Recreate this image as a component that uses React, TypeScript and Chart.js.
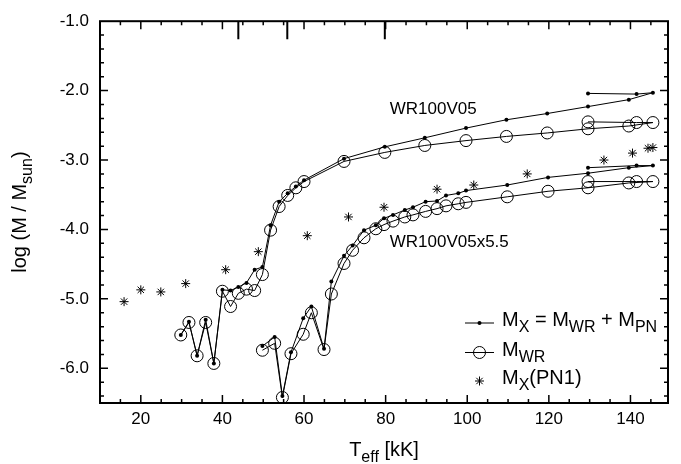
import React, { useEffect, useRef } from "react";
import { Chart, registerables } from "chart.js";

Chart.register(...registerables);

const FAMILY = '"Liberation Sans", Arial, Helvetica, sans-serif';

// ---- data ----
// model WR100V05
const upperT = [29.8, 31.8, 33.8, 35.9, 37.9, 40.0, 42.0, 43.9, 45.9, 47.9, 49.8, 51.8, 53.9, 56.0, 58.0, 60.0, 69.8, 79.8, 89.6, 99.7, 109.6, 119.6, 129.6, 139.6, 145.5, 141.5, 129.6];
const upperMX = [-5.52, -5.33, -5.82, -5.30, -5.93, -4.87, -4.88, -4.83, -4.77, -4.58, -4.54, -3.94, -3.60, -3.48, -3.38, -3.29, -2.98, -2.81, -2.68, -2.54, -2.42, -2.33, -2.23, -2.13, -2.03, -2.05, -2.04];
const upperMWR = [-5.52, -5.34, -5.82, -5.34, -5.93, -4.89, -5.11, -4.92, -4.86, -4.88, -4.65, -4.01, -3.67, -3.51, -3.40, -3.31, -3.02, -2.89, -2.79, -2.72, -2.66, -2.61, -2.55, -2.51, -2.46, -2.46, -2.45];

// model WR100V05x5.5
const lowerT = [49.8, 52.8, 54.7, 56.8, 59.8, 61.8, 64.9, 66.7, 69.8, 71.9, 74.7, 77.6, 79.6, 81.8, 84.7, 86.7, 89.8, 92.6, 94.8, 97.8, 99.7, 109.8, 119.8, 129.6, 139.6, 145.5, 141.5, 129.6];
const lowerMX = [-5.68, -5.55, -6.40, -5.77, -5.28, -5.11, -5.72, -4.75, -4.38, -4.23, -4.01, -3.94, -3.84, -3.79, -3.72, -3.68, -3.60, -3.59, -3.51, -3.48, -3.44, -3.36, -3.25, -3.19, -3.11, -3.08, -3.08, -3.11];
const lowerMWR = [-5.74, -5.64, -6.42, -5.79, -5.51, -5.20, -5.73, -4.93, -4.49, -4.30, -4.12, -3.99, -3.93, -3.88, -3.82, -3.79, -3.74, -3.70, -3.66, -3.63, -3.61, -3.53, -3.45, -3.40, -3.33, -3.31, -3.31, -3.31];

// M_X(PN1)
const pnT = [15.9, 20.0, 24.9, 31.0, 40.8, 48.8, 60.8, 70.9, 79.6, 92.6, 101.6, 114.7, 133.5, 140.5, 144.3, 145.5];
const pnMX = [-5.04, -4.87, -4.90, -4.78, -4.58, -4.32, -4.09, -3.82, -3.68, -3.42, -3.36, -3.20, -3.00, -2.90, -2.83, -2.82];

// axes
const xTickLabels = [20, 40, 60, 80, 100, 120, 140];
const yTickLabels = [-1, -2, -3, -4, -5, -6];
const topMarks = [43.9, 55.9, 79.8];
const labelUpper = "WR100V05";
const labelLower = "WR100V05x5.5";

const X_MIN = 10;
const X_MAX = 149.2;
const Y_MIN = -6.5;
const Y_MAX = -1;

type Seg = { t: string; sub?: boolean };

function drawRich(ctx: CanvasRenderingContext2D, segs: Seg[], x: number, y: number, size: number, align: "left" | "center") {
  const fMain = `${size}px ${FAMILY}`;
  const fSub = `${Math.round(size * 0.8)}px ${FAMILY}`;
  let w = 0;
  for (const s of segs) {
    ctx.font = s.sub ? fSub : fMain;
    w += ctx.measureText(s.t).width;
  }
  let cx = align === "center" ? x - w / 2 : x;
  ctx.textAlign = "left";
  ctx.textBaseline = "alphabetic";
  for (const s of segs) {
    ctx.font = s.sub ? fSub : fMain;
    ctx.fillText(s.t, cx, y + (s.sub ? size * 0.3 : 0));
    cx += ctx.measureText(s.t).width;
  }
}

function drawStar(ctx: CanvasRenderingContext2D, x: number, y: number, r: number) {
  ctx.beginPath();
  ctx.moveTo(x - r, y);
  ctx.lineTo(x + r, y);
  ctx.moveTo(x, y - r);
  ctx.lineTo(x, y + r);
  const d = r * Math.SQRT1_2;
  ctx.moveTo(x - d, y - d);
  ctx.lineTo(x + d, y + d);
  ctx.moveTo(x - d, y + d);
  ctx.lineTo(x + d, y - d);
  ctx.stroke();
}

const decorPlugin = {
  id: "decor",
  afterDraw(chart: any) {
    const { ctx, chartArea: a, scales } = chart;
    const xs = scales.x;
    const ys = scales.y;
    ctx.save();
    ctx.strokeStyle = "#000";
    ctx.fillStyle = "#000";

    // frame
    ctx.lineWidth = 2;
    ctx.strokeRect(a.left, a.top, a.right - a.left, a.bottom - a.top);

    // x ticks (bottom and top, inward)
    ctx.lineWidth = 1.5;
    ctx.beginPath();
    for (let i = 0; ; i++) {
      const t = X_MIN + 5 * i;
      if (t > X_MAX) break;
      if (t <= X_MIN) continue;
      const major = t % 20 === 0;
      const len = major ? 8 : 4;
      const px = xs.getPixelForValue(t);
      ctx.moveTo(px, a.bottom);
      ctx.lineTo(px, a.bottom - len);
      ctx.moveTo(px, a.top);
      ctx.lineTo(px, a.top + len);
    }
    // y ticks (left and right, inward)
    for (let i = -32; i <= -6; i++) {
      const v = i / 5;
      const major = i % 5 === 0;
      const len = major ? 8 : 4;
      const py = ys.getPixelForValue(v);
      ctx.moveTo(a.left, py);
      ctx.lineTo(a.left + len, py);
      ctx.moveTo(a.right, py);
      ctx.lineTo(a.right - len, py);
    }
    ctx.stroke();

    // long marks on top axis
    ctx.lineWidth = 2;
    ctx.beginPath();
    for (const t of topMarks) {
      const px = xs.getPixelForValue(t);
      ctx.moveTo(px, a.top);
      ctx.lineTo(px, a.top + 18);
    }
    ctx.stroke();

    // model labels
    ctx.font = `17px ${FAMILY}`;
    ctx.textAlign = "left";
    ctx.textBaseline = "middle";
    ctx.fillText(labelUpper, xs.getPixelForValue(81), ys.getPixelForValue(-2.27));
    ctx.fillText(labelLower, xs.getPixelForValue(81), ys.getPixelForValue(-4.19));

    // legend
    const lx0 = 465;
    const lx1 = 494;
    const lm = (lx0 + lx1) / 2;
    const tx = 502;
    const rows = [323, 352.5, 381];
    const LS = 20;
    ctx.lineWidth = 1;
    // row 1: line + dot
    ctx.beginPath();
    ctx.moveTo(lx0, rows[0]);
    ctx.lineTo(lx1, rows[0]);
    ctx.stroke();
    ctx.beginPath();
    ctx.arc(lm, rows[0], 2, 0, Math.PI * 2);
    ctx.fill();
    drawRich(ctx, [{ t: "M" }, { t: "X", sub: true }, { t: " = M" }, { t: "WR", sub: true }, { t: " + M" }, { t: "PN", sub: true }], tx, rows[0] + 3, LS, "left");
    // row 2: line + open circle
    ctx.beginPath();
    ctx.moveTo(lx0, rows[1]);
    ctx.lineTo(lx1, rows[1]);
    ctx.stroke();
    ctx.beginPath();
    ctx.arc(lm, rows[1], 6, 0, Math.PI * 2);
    ctx.stroke();
    drawRich(ctx, [{ t: "M" }, { t: "WR", sub: true }], tx, rows[1] + 3, LS, "left");
    // row 3: star
    ctx.lineWidth = 1;
    drawStar(ctx, lm, rows[2], 4.5);
    drawRich(ctx, [{ t: "M" }, { t: "X", sub: true }, { t: "(PN1)" }], tx, rows[2] + 3, LS, "left");

    // axis titles
    drawRich(ctx, [{ t: "T" }, { t: "eff", sub: true }, { t: " [kK]" }], (a.left + a.right) / 2, 456, 20, "center");
    ctx.save();
    ctx.translate(26, (a.top + a.bottom) / 2);
    ctx.rotate(-Math.PI / 2);
    drawRich(ctx, [{ t: "log (M / M" }, { t: "sun", sub: true }, { t: ")" }], 0, 0, 20, "center");
    ctx.restore();

    ctx.restore();
  },
};

function pts(xs: number[], ys: number[]) {
  return xs.map((x, i) => ({ x, y: ys[i] }));
}

export default function App() {
  const ref = useRef<HTMLCanvasElement>(null);
  useEffect(() => {
    document.body.style.margin = "0";
    const dotLine = {
      borderColor: "#000",
      backgroundColor: "#000",
      borderWidth: 1,
      pointRadius: 2,
      pointStyle: "circle",
      pointBorderWidth: 0,
      showLine: true,
      clip: false as any,
    };
    const circleLine = {
      borderColor: "#000",
      backgroundColor: "rgba(0,0,0,0)",
      borderWidth: 1,
      pointRadius: 6,
      pointStyle: "circle",
      pointBorderWidth: 1,
      showLine: true,
      clip: false as any,
    };
    const chart = new Chart(ref.current!, {
      type: "scatter",
      data: {
        datasets: [
          { label: "MX upper", data: pts(upperT, upperMX), ...dotLine },
          { label: "MWR upper", data: pts(upperT, upperMWR), ...circleLine },
          { label: "MX lower", data: pts(lowerT, lowerMX), ...dotLine },
          { label: "MWR lower", data: pts(lowerT, lowerMWR), ...circleLine },
          {
            label: "MX(PN1)",
            data: pts(pnT, pnMX),
            showLine: false,
            pointStyle: "star",
            pointRadius: 4.5,
            borderColor: "#000",
            backgroundColor: "#000",
            pointBorderWidth: 1,
            clip: false as any,
          },
        ],
      },
      options: {
        animation: false,
        responsive: false,
        devicePixelRatio: 1,
        layout: { padding: { top: 19, right: 13, left: 0, bottom: 0 } },
        plugins: { legend: { display: false }, tooltip: { enabled: false } },
        scales: {
          x: {
            type: "linear",
            min: X_MIN,
            max: X_MAX,
            grid: { display: false, drawTicks: false },
            border: { display: false },
            ticks: { color: "#000", font: { family: FAMILY, size: 17 }, padding: 6, maxRotation: 0 },
            afterBuildTicks: (s: any) => {
              s.ticks = xTickLabels.map((v) => ({ value: v }));
            },
            afterFit: (s: any) => {
              s.height = 61;
            },
          },
          y: {
            type: "linear",
            min: Y_MIN,
            max: Y_MAX,
            grid: { display: false, drawTicks: false },
            border: { display: false },
            ticks: {
              color: "#000",
              font: { family: FAMILY, size: 17 },
              padding: 11,
              callback: (v: any) => Number(v).toFixed(1),
            },
            afterBuildTicks: (s: any) => {
              s.ticks = yTickLabels.map((v) => ({ value: v }));
            },
            afterFit: (s: any) => {
              s.width = 100;
            },
          },
        },
      },
      plugins: [decorPlugin],
    });
    return () => chart.destroy();
  }, []);
  return (
    <div style={{ width: 681, height: 464, background: "#fff" }}>
      <canvas ref={ref} width={681} height={464} />
    </div>
  );
}
